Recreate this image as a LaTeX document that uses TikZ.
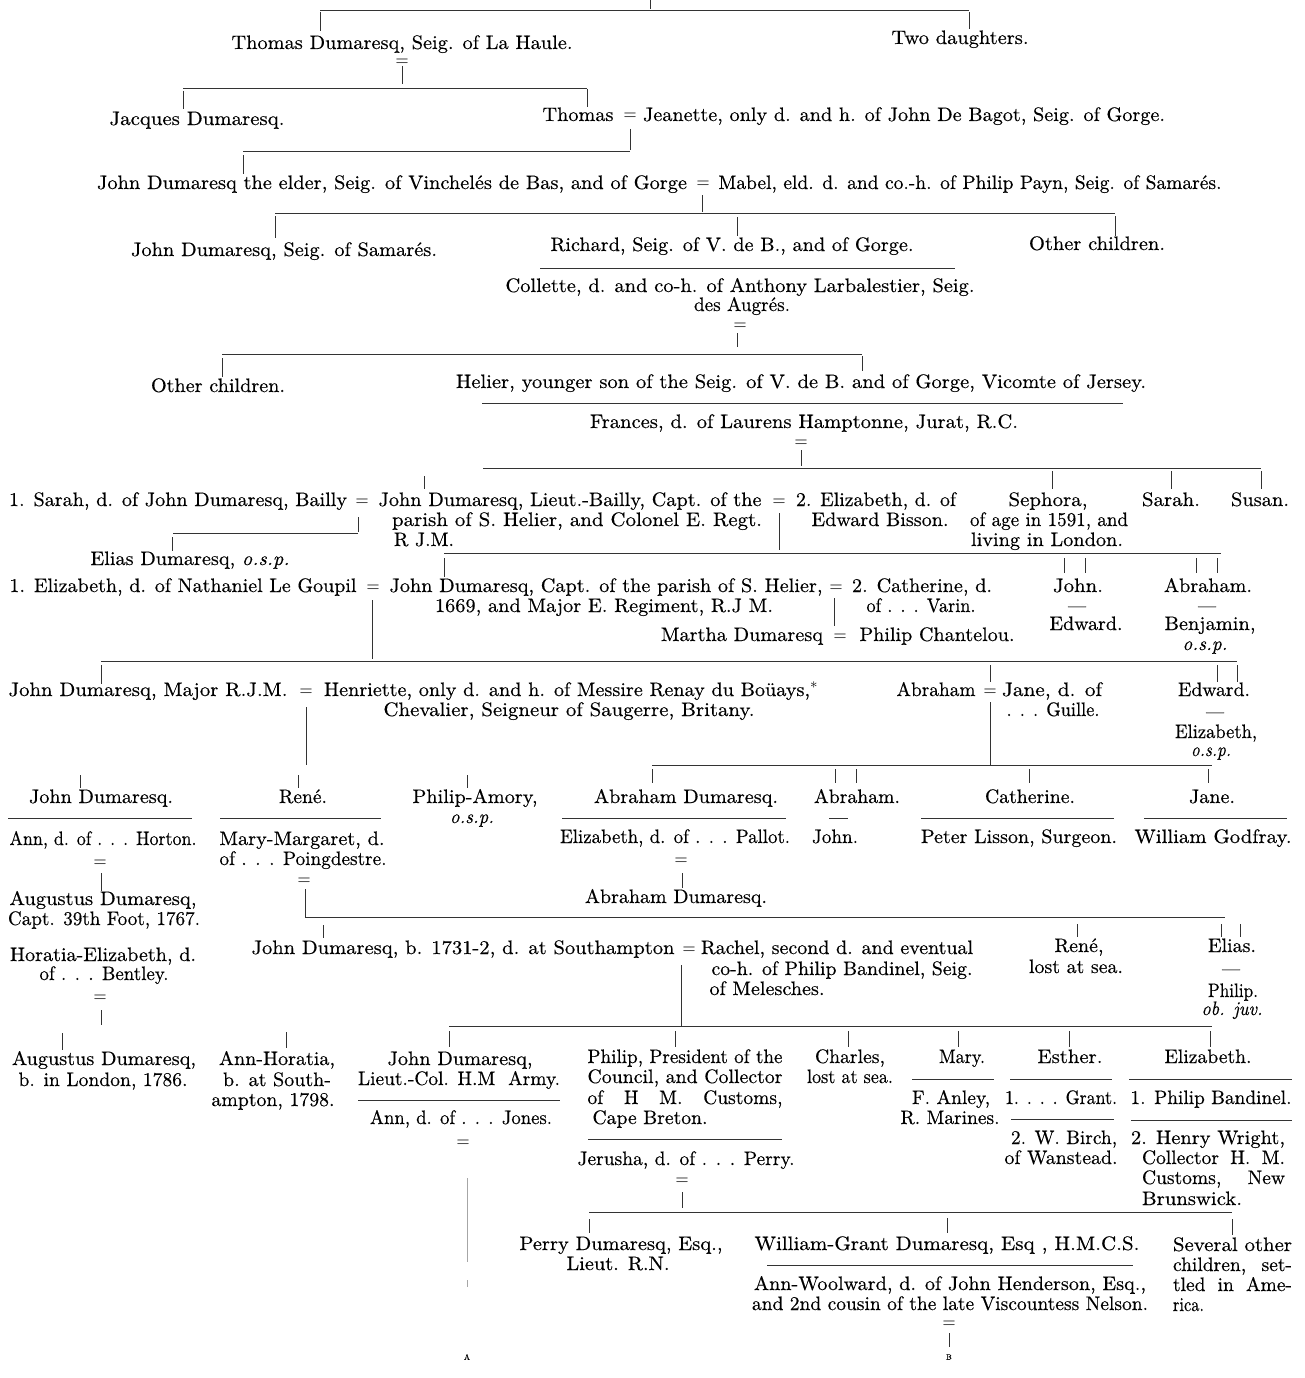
\documentclass[tikz,border=0pt]{standalone}
\usepackage{graphicx}
\usepackage{fontspec}
\setmainfont{lmroman10-regular}[Extension=.otf, ItalicFont=lmroman10-italic, FakeBold=0.35]
\newcommand\fitw[2]{\resizebox{#1pt}{\height}{#2}}
\newcommand\gn[5]{\node[txt] (#1) at (#2,#3) {\fitw{#4}{#5}};}
\newcommand\gj[5]{\node[txt] (#1) at (#2,#3) {\makebox[#4pt][s]{#5}};}
\newcommand\mq[3]{\node[txt] (#1) at (#2,#3) {\fitw{13}{$=$}};}
\newcommand\dsh[3]{\node[txt] (#1) at (#2,#3) {\fitw{18}{---}};}
\tikzset{
  txt/.style={anchor=base, inner sep=0pt, outer sep=0pt, font=\fontsize{19.5}{20.5}\selectfont},
  ln/.style={line width=0.7pt, black!80},
  faint/.style={line width=0.5pt, black!35},
  tiny/.style={inner sep=0pt, font=\fontsize{8}{9}\selectfont}
}
\begin{document}
\begin{tikzpicture}[x=1pt,y=-1pt]
\fill[white] (0,0) rectangle (1305,1378);
\useasboundingbox (0,0) rectangle (1305,1378);

% ---------------- texts ----------------
\gn{thomasA}{402}{49}{341}{Thomas Dumaresq, Seig. of La Haule.}
\gn{twod}{960}{44}{137}{Two daughters.}
\mq{mqA}{402}{67}
\gn{jacques}{197}{125}{175}{Jacques Dumaresq.}
\gn{thomasB}{578}{121}{71}{Thomas}
\mq{mqB}{630}{121}
\gn{jeanette}{904}{121}{522}{Jeanette, only d. and h. of John De Bagot, Seig. of Gorge.}
\gn{johnE}{392}{189}{590}{John Dumaresq the elder, Seig. of Vinchelés de Bas, and of Gorge}
\mq{mqC}{703}{189}
\gn{mabel}{970}{189}{503}{Mabel, eld. d. and co.-h. of Philip Payn, Seig. of Samarés.}
\gn{johnS}{284}{256}{306}{John Dumaresq, Seig. of Samarés.}
\gn{richard}{732}{251}{363}{Richard, Seig. of V. de B., and of Gorge.}
\gn{otherA}{1097}{250}{136}{Other children.}
\gn{collette1}{740}{292}{469}{Collette, d. and co-h. of Anthony Larbalestier, Seig.}
\gn{collette2}{742}{311}{96}{des Augrés.}
\mq{mqD}{740}{330}
\gn{otherB}{218}{392}{134}{Other children.}
\gn{helier}{801}{388}{690}{Helier, younger son of the Seig. of V. de B. and of Gorge, Vicomte of Jersey.}
\gn{frances}{804}{428}{428}{Frances, d. of Laurens Hamptonne, Jurat, R.C.}
\mq{mqE}{801}{447}
\gn{sarahA}{178}{506}{338}{1. Sarah, d. of John Dumaresq, Bailly}
\mq{mqF}{362}{506}
\gn{johnLB1}{570}{506}{383}{John Dumaresq, Lieut.-Bailly, Capt. of the}
\gn{johnLB2}{577}{526}{370}{parish of S. Helier, and Colonel E. Regt.}
\gn{johnLB3}{424}{546}{60}{R J.M.}
\mq{mqG}{779}{506}
\gn{elizB1}{876}{506}{160}{2. Elizabeth, d. of}
\gn{elizB2}{880}{526}{137}{Edward Bisson.}
\gn{sephora1}{1048}{506}{79}{Sephora,}
\gn{sephora2}{1049}{526}{158}{of age in 1591, and}
\gn{sephora3}{1047}{546}{152}{living in London.}
\gn{sarahB}{1171}{506}{58}{Sarah.}
\gn{susan}{1260}{506}{58}{Susan.}
\gn{elias}{190}{565}{199}{Elias Dumaresq, \textit{o.s.p.}}
\gn{elizLG}{183}{592}{347}{1. Elizabeth, d. of Nathaniel Le Goupil}
\mq{mqH}{373}{592}
\gn{johnC1}{606}{592}{433}{John Dumaresq, Capt. of the parish of S. Helier,}
\gn{johnC2}{604}{612}{338}{1669, and Major E. Regiment, R.J M.}
\mq{mqI}{836}{592}
\gn{cath1}{922}{592}{140}{2. Catherine, d.}
\gn{cath2}{921}{612}{109}{of . . . Varin.}
\gn{martha}{742}{641}{162}{Martha Dumaresq}
\mq{mqJ}{840}{641}
\gn{chantelou}{937}{641}{155}{Philip Chantelou.}
\gn{johnB}{1078}{592}{50}{John.}
\dsh{dashA}{1077}{612}
\gn{edwardA}{1086}{630}{73}{Edward.}
\gn{abrahamA}{1208}{592}{88}{Abraham.}
\dsh{dashB}{1207}{612}
\gn{benjamin}{1210}{630}{91}{Benjamin,}
\gn{ospA}{1205}{650}{45}{\textit{o.s.p.}}
\gn{johnM}{148}{696}{279}{John Dumaresq, Major R.J.M.}
\mq{mqK}{306}{696}
\gn{henriette1}{571}{696}{494}{Henriette, only d. and h. of Messire Renay du Boüays,$^{*}$}
\gn{henriette2}{569}{716}{371}{Chevalier, Seigneur of Saugerre, Britany.}
\gn{abrahamB}{936}{696}{79}{Abraham}
\mq{mqL}{990}{696}
\gn{jane1}{1052}{696}{100}{Jane, d. of}
\gn{jane2}{1053}{716}{93}{. . . Guille.}
\gn{edwardB}{1214}{696}{72}{Edward.}
\dsh{dashC}{1215}{718}
\gn{elizC}{1216}{738}{82}{Elizabeth,}
\gn{ospB}{1211}{756}{40}{\textit{o.s.p.}}
\gn{johnD}{101}{803}{144}{John Dumaresq.}
\gn{rene}{303}{803}{48}{René.}
\gn{philipA1}{475}{803}{125}{Philip-Amory,}
\gn{philipA2}{472}{823}{44}{\textit{o.s.p.}}
\gn{abrahamD}{686}{803}{184}{Abraham Dumaresq.}
\gn{abrahamC}{857}{803}{86}{Abraham.}
\gn{catherine}{1030}{803}{90}{Catherine.}
\gn{jane}{1212}{803}{46}{Jane.}
\gn{annH}{103}{845}{187}{Ann, d. of . . . Horton.}
\gn{mm1}{302}{845}{165}{Mary-Margaret, d.}
\gn{mm2}{303}{865}{167}{of . . . Poingdestre.}
\gn{elizP}{675}{843}{230}{Elizabeth, d. of . . . Pallot.}
\gn{johnE2}{835}{843}{46}{John.}
\gn{lisson}{1019}{843}{196}{Peter Lisson, Surgeon.}
\gn{godfray}{1213}{843}{157}{William Godfray.}
\mq{mqM}{100}{867}
\mq{mqN}{304}{885}
\mq{mqO}{681}{865}
\gn{abrahamE}{676}{903}{182}{Abraham Dumaresq.}
\gn{aug1}{103}{905}{187}{Augustus Dumaresq,}
\gn{aug2}{104}{925}{192}{Capt. 39th Foot, 1767.}
\gn{horatia1}{103}{961}{186}{Horatia-Elizabeth, d.}
\gn{horatia2}{104}{980}{129}{of . . . Bentley.}
\mq{mqP}{100}{1002}
\gn{johnF}{463}{954}{423}{John Dumaresq, b. 1731-2, d. at Southampton}
\mq{mqQ}{689}{954}
\gn{rachel1}{837}{954}{272}{Rachel, second d. and eventual}
\gn{rachel2}{842}{975}{261}{co-h. of Philip Bandinel, Seig.}
\gn{rachel3}{767}{995}{115}{of Melesches.}
\gn{reneB1}{1079}{952}{49}{René,}
\gn{reneB2}{1076}{973}{94}{lost at sea.}
\gn{eliasB}{1232}{952}{48}{Elias.}
\dsh{dashD}{1231}{975}
\gn{philipB}{1233}{997}{50}{Philip.}
\gn{objuv}{1232}{1015}{61}{\textit{ob. juv.}}
\gn{augB1}{104}{1065}{184}{Augustus Dumaresq,}
\gn{augB2}{103}{1086}{169}{b. in London, 1786.}
\gn{annHor1}{277}{1065}{116}{Ann-Horatia,}
\gn{annHor2}{277}{1086}{108}{b. at South-}
\gn{annHor3}{273}{1106}{123}{ampton, 1798.}
\gn{johnG1}{460}{1065}{145}{John Dumaresq,}
\gn{johnG2}{459}{1085}{202}{Lieut.-Col. H.M\ \ Army.}
\gn{annJ}{461}{1124}{182}{Ann, d. of . . . Jones.}
\mq{mqR}{463}{1147}
\gn{philipC1}{685}{1063}{195}{Philip, President of the}
\gn{philipC2}{685}{1083}{195}{Council, and Collector}
\gj{philipC3}{685}{1104}{195}{of H M. Customs,}
\gn{philipC4}{650}{1124}{115}{Cape Breton.}
\gn{charles1}{850}{1063}{70}{Charles,}
\gn{charles2}{850}{1083}{86}{lost at sea.}
\gn{mary}{962}{1063}{46}{Mary.}
\gn{esther}{1070}{1063}{65}{Esther.}
\gn{elizD}{1208}{1063}{87}{Elizabeth.}
\gn{anley1}{951}{1104}{78}{F. Anley,}
\gn{anley2}{950}{1124}{99}{R. Marines.}
\gn{grant}{1061}{1104}{112}{1. . . . Grant.}
\gn{bandinel}{1211}{1104}{161}{1. Philip Bandinel.}
\gn{birch1}{1064}{1144}{106}{2. W. Birch,}
\gn{birch2}{1061}{1164}{113}{of Wanstead.}
\gn{wright1}{1208}{1144}{154}{2. Henry Wright,}
\gj{wright2}{1213.5}{1164}{143}{Collector H. M.}
\gj{wright3}{1213.5}{1184}{143}{Customs, New}
\gn{wright4}{1192}{1205}{100}{Brunswick.}
\gn{jerusha}{686}{1165}{217}{Jerusha, d. of . . . Perry.}
\mq{mqS}{682}{1185}
\gn{perry1}{621}{1250}{203}{Perry Dumaresq, Esq.,}
\gn{perry2}{618}{1270}{103}{Lieut. R.N.}
\gn{william}{947}{1250}{385}{William-Grant Dumaresq, Esq , H.M.C.S.}
\gn{annW1}{950}{1290}{392}{Ann-Woolward, d. of John Henderson, Esq.,}
\gn{annW2}{950}{1310}{396}{and 2nd cousin of the late Viscountess Nelson.}
\mq{mqT}{949}{1328}
\gn{several1}{1232.5}{1251}{119}{Several other}
\gj{several2}{1232.5}{1271}{119}{children, set-}
\gj{several3}{1232.5}{1291}{119}{tled in Ame-}
\gn{several4}{1188.5}{1311}{31}{rica.}
\node[tiny] (labA) at (467,1357) {A};
\node[tiny] (labB) at (949,1357) {B};

% ---------------- connectors ----------------
\draw[ln] (650,0)--(650,9);
\draw[ln] (320,10)--(969,10);
\draw[ln] (320,12)--(320,31);
\draw[ln] (969,12)--(969,29);
\draw[ln] (402,66)--(402,84);
\draw[ln] (183,88)--(587,88);
\draw[ln] (183,91)--(183,109);
\draw[ln] (587,89)--(587,107);
\draw[ln] (630,129)--(630,150);
\draw[ln] (243,151)--(630,151);
\draw[ln] (243,155)--(243,174);
\draw[ln] (702,195)--(702,212);
\draw[ln] (275,213)--(1115,213);
\draw[ln] (275,216)--(275,238);
\draw[ln] (737,217)--(737,236);
\draw[ln] (1115,216)--(1115,236);
\draw[ln] (540,268)--(955,268);
\draw[ln] (737,333)--(737,347);
\draw[ln] (222,354)--(862,354);
\draw[ln] (222,358)--(222,377);
\draw[ln] (862,356)--(862,371);
\draw[ln] (482,403)--(1123,403);
\draw[ln] (801,450)--(801,466);
\draw[ln] (483,468)--(1261,468);
\draw[ln] (424,476)--(424,489);
\foreach \xx in {1052,1171,1261} \draw[ln] (\xx,471)--(\xx,489);
\draw[ln] (358,517)--(358,532);
\draw[ln] (173,533)--(358,533);
\draw[ln] (172,537)--(172,551);
\draw[ln] (779,513)--(779,550);
\draw[ln] (444,553)--(1221,553);
\draw[ln] (444,558)--(444,577);
\foreach \xx in {1064,1085,1196,1217} \draw[ln] (\xx,558)--(\xx,573);
\draw[ln] (372,600)--(372,659);
\draw[ln] (834,598)--(834,626);
\draw[ln] (101,661)--(1237,661);
\draw[ln] (101,665)--(101,684);
\draw[ln] (990,665)--(990,682);
\foreach \xx in {1217,1237} \draw[ln] (\xx,665)--(\xx,682);
\draw[ln] (306,707)--(306,765);
\draw[ln] (990,702)--(990,765);
\draw[ln] (652,765)--(1212,765);
\foreach \xx in {652,835,856,1029,1208} \draw[ln] (\xx,769)--(\xx,783);
\foreach \xx in {80,298,467} \draw[ln] (\xx,775)--(\xx,788);
\draw[ln] (8,818)--(192,818);
\draw[ln] (220,818)--(381,818);
\draw[ln] (562,818)--(786,818);
\draw[ln] (829,818)--(848,818);
\draw[ln] (921,818)--(1114,818);
\draw[ln] (1144,818)--(1287,818);
\draw[ln] (101,873)--(101,891);
\draw[ln] (305,889)--(305,918);
\draw[ln] (682,873)--(682,888);
\draw[ln] (305,917)--(1225,917);
\draw[ln] (323,925)--(323,938);
\draw[ln] (1077,924)--(1077,937);
\foreach \xx in {1221,1240} \draw[ln] (\xx,924)--(\xx,937);
\draw[ln] (101,1010)--(101,1025);
\draw[ln] (681,965)--(681,1026);
\draw[ln] (449,1026)--(1212,1026);
\foreach \xx in {449,675,848,958,1069,1210} \draw[ln] (\xx,1031)--(\xx,1047);
\draw[ln] (62,1033)--(62,1050);
\draw[ln] (286,1032)--(286,1048);
\draw[ln] (358,1100)--(560,1100);
\draw[ln] (912,1079)--(994,1079);
\draw[ln] (1010,1079)--(1112,1079);
\draw[ln] (1129,1079)--(1292,1079);
\draw[ln] (1011,1119)--(1114,1119);
\draw[ln] (1131,1120)--(1292,1120);
\draw[ln] (588,1139)--(782,1139);
\draw[ln] (682,1192)--(682,1208);
\draw[ln] (589,1212)--(1232,1212);
\draw[ln] (589,1219)--(589,1233);
\draw[ln] (947,1218)--(947,1233);
\draw[ln] (1232,1219)--(1232,1235);
\draw[ln] (767,1265)--(1133,1265);
\draw[ln] (949,1333)--(949,1347);
\draw[faint] (467,1178)--(467,1262);
\draw[faint] (467,1280)--(467,1287);
\end{tikzpicture}
\end{document}
